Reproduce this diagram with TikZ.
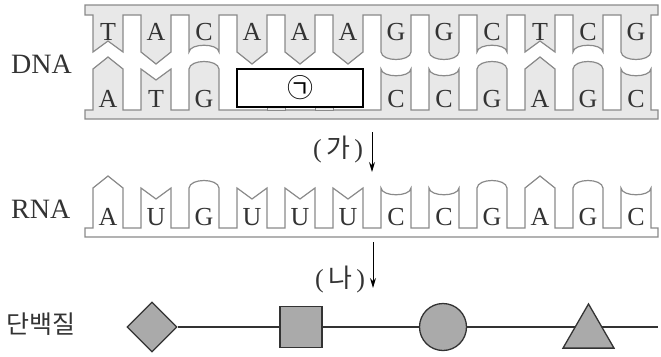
\documentclass[tikz,border=0pt]{standalone}
\usepackage{fontspec}
\setmainfont{Liberation Serif}
\newfontfamily\kr{Noto Sans CJK KR}
\usetikzlibrary{arrows.meta,shapes.geometric,backgrounds}
\definecolor{strandgray}{HTML}{8A8A8A}
\definecolor{dnafill}{HTML}{E8E8E8}
\definecolor{basecol}{HTML}{333333}
\definecolor{protfill}{HTML}{AAAAAA}
\definecolor{protline}{HTML}{333333}
% tooth macros: {left x}{backbone y}{side y}{direction}
\newcommand\TA[4]{-- (#1,#2) -- (#1,#3) -- ({#1+15},{#3+12*(#4)}) -- ({#1+30},#3) -- ({#1+30},#2)}
\newcommand\TT[4]{-- (#1,#2) -- (#1,#3) -- ({#1+15},{#3-11*(#4)}) -- ({#1+30},#3) -- ({#1+30},#2)}
\newcommand\TG[4]{-- (#1,#2) -- (#1,#3) .. controls ({#1+1},{#3+10*(#4)}) and ({#1+29},{#3+10*(#4)}) .. ({#1+30},#3) -- ({#1+30},#2)}
\newcommand\TC[4]{-- (#1,#2) -- (#1,#3) .. controls ({#1+1},{#3-9*(#4)}) and ({#1+29},{#3-9*(#4)}) .. ({#1+30},#3) -- ({#1+30},#2)}
\begin{document}
\begin{tikzpicture}[x=1pt,y=-1pt,
  dna/.style={draw=strandgray, fill=dnafill, line width=1.2pt},
  rna/.style={draw=strandgray, fill=white, line width=1.2pt},
  basetxt/.style={font=\fontsize{26}{26}\selectfont, text=basecol, anchor=base, inner sep=0pt},
  label/.style={font=\fontsize{28}{28}\selectfont, text=basecol, anchor=base west, inner sep=0pt},
  steplabel/.style={font=\fontsize{26}{26}\selectfont, text=basecol, inner sep=0pt},
  flowarrow/.style={-{Stealth[length=10pt,width=6pt]}, line width=1pt, draw=black},
  prot/.style={draw=protline, fill=protfill, line width=1.3pt, inner sep=0pt},
  chain/.style={draw=protline, line width=1.3pt}
]
\useasboundingbox (0,0) rectangle (661,356);

% ---------- DNA top strand ----------
\draw[dna] (85,5) -- (85,15)
  \TT{93}{15}{52}{1} \TA{141}{15}{52}{1} \TC{189}{15}{52}{1}
  \TA{237}{15}{52}{1} \TA{285}{15}{52}{1} \TA{333}{15}{52}{1}
  \TG{381}{15}{52}{1} \TG{429}{15}{52}{1} \TC{477}{15}{52}{1}
  \TT{525}{15}{52}{1} \TC{573}{15}{52}{1} \TG{621}{15}{52}{1}
  -- (658,15) -- (658,5) -- cycle;

% ---------- DNA bottom strand ----------
\draw[dna] (85,119) -- (85,110)
  \TA{93}{110}{69}{-1} \TT{141}{110}{69}{-1} \TG{189}{110}{69}{-1}
  \TC{381}{110}{69}{-1} \TC{429}{110}{69}{-1} \TG{477}{110}{69}{-1}
  \TA{525}{110}{69}{-1} \TG{573}{110}{69}{-1} \TC{621}{110}{69}{-1}
  -- (658,110) -- (658,119) -- cycle;
\draw[dna,line width=1pt] (267,107) rectangle (285,110);
\draw[dna,line width=1pt] (315,107) rectangle (333,110);

% ---------- hidden region ----------
\node[draw=black, fill=white, line width=1.3pt, minimum width=126pt, minimum height=38pt,
      inner sep=0pt] (box) at (300,88) {};
\node[inner sep=0pt, text=black, font=\kr\fontsize{26}{26}\selectfont] (giyeok) at (box.center) {㉠};

% ---------- DNA letters ----------
\foreach \l [count=\i] in {T,A,C,A,A,A,G,G,C,T,C,G}
  \node[basetxt] (top\i) at ({108+48*(\i-1)},40) {\l};
\foreach \l/\i in {A/1,T/2,G/3,C/7,C/8,G/9,A/10,G/11,C/12}
  \node[basetxt] (bot\i) at ({108+48*(\i-1)},107) {\l};

% ---------- RNA ----------
\draw[rna] (85,237) -- (85,228)
  \TA{93}{228}{188}{-1} \TT{141}{228}{188}{-1} \TG{189}{228}{188}{-1}
  \TT{237}{228}{188}{-1} \TT{285}{228}{188}{-1} \TT{333}{228}{188}{-1}
  \TC{381}{228}{188}{-1} \TC{429}{228}{188}{-1} \TG{477}{228}{188}{-1}
  \TA{525}{228}{188}{-1} \TG{573}{228}{188}{-1} \TC{621}{228}{188}{-1}
  -- (658,228) -- (658,237) -- cycle;
\foreach \l [count=\i] in {A,U,G,U,U,U,C,C,G,A,G,C}
  \node[basetxt] (rna\i) at ({108+48*(\i-1)},225) {\l};

% ---------- labels ----------
\node[label] (dnalabel) at (11,73) {DNA};
\node[label] (rnalabel) at (11,218) {RNA};
\node[font=\kr\fontsize{25}{25}\selectfont, text=basecol, inner sep=0pt] (protlabel) at (41,324) {단백질};

% ---------- process arrows ----------
\node[steplabel] (ga) at (338,150) {(\,{\kr 가}\,)};
\coordinate (gaS) at (372,132);
\coordinate (gaE) at (372,172);
\draw[flowarrow] (gaS) -- (gaE);
\node[steplabel] (na) at (340,280) {(\,{\kr 나}\,)};
\coordinate (naS) at (373,242);
\coordinate (naE) at (373,288);
\draw[flowarrow] (naS) -- (naE);

% ---------- protein ----------
\node[prot, diamond, minimum width=50pt, minimum height=50pt] (dia) at (152,327) {};
\node[prot, rectangle, minimum width=42pt, minimum height=41pt] (sq) at (301,327) {};
\node[prot, circle, minimum size=47pt] (circ) at (443,327) {};
\node[prot, regular polygon, regular polygon sides=3, minimum size=58.9pt] (tri) at (588.5,333.4) {};
\coordinate (chainend) at (658,327);
\begin{scope}[on background layer]
  \draw[chain] (dia.east) -- (chainend);
\end{scope}
\end{tikzpicture}
\end{document}
